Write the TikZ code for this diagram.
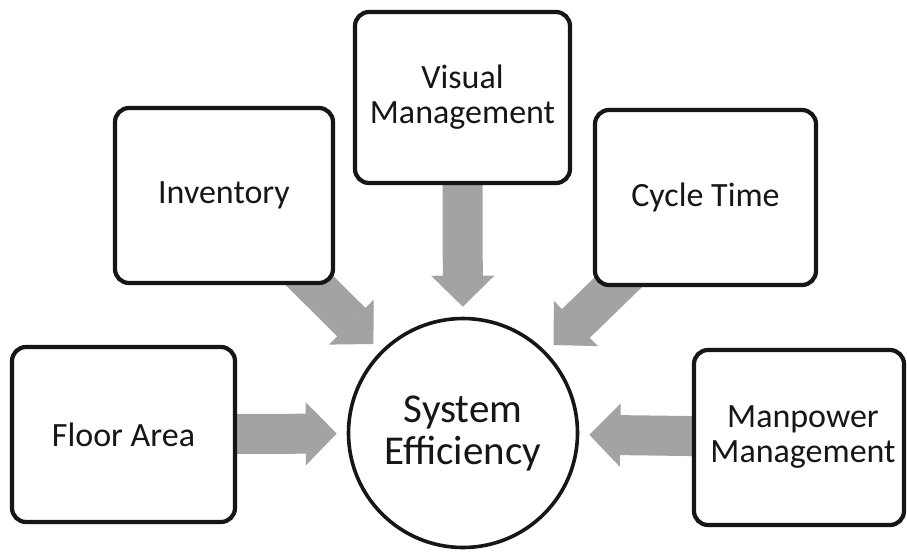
\documentclass[tikz,border=0pt]{standalone}
\usepackage{fontspec}
\setmainfont{Carlito}
\usetikzlibrary{arrows.meta}
\pgfdeclarelayer{background}
\pgfdeclarelayer{paper}
\pgfsetlayers{paper,background,main}
\definecolor{arrowgray}{RGB}{163,163,163}
\definecolor{ink}{RGB}{22,22,22}
\begin{document}
\begin{tikzpicture}[x=1pt,y=-1pt,
  box/.style={draw=ink, line width=4.2pt, rounded corners=14pt, fill=white,
    align=center, font=\fontsize{34}{35}\selectfont, text=ink, inner sep=0pt},
  hub/.style={circle, draw=ink, line width=3.6pt, fill=white, minimum size=229pt,
    inner sep=0pt, align=center, font=\fontsize{41}{42}\selectfont, text=ink},
  bigarrow/.style={draw=arrowgray, line width=40pt,
    -{Triangle[length=31pt,width=63pt,line width=1.2pt]},
    shorten >=10pt, shorten <=-30pt}]
\useasboundingbox (0,0) rectangle (907,552);
\begin{pgfonlayer}{paper}
\fill[white] (0,0) rectangle (907,552);
\end{pgfonlayer}
\node[box, minimum width=215pt, minimum height=171pt] (vm) at (462.5,97.5) {Visual\\Management};
\node[box, minimum width=218pt, minimum height=175pt] (inv) at (224,195.5) {Inventory};
\node[box, minimum width=221pt, minimum height=175pt] (ct) at (705.5,197.5) {Cycle Time};
\node[box, minimum width=223pt, minimum height=175pt] (fa) at (123.5,434.5) {Floor Area};
\node[box, minimum width=210pt, minimum height=175pt] (mp) at (799,437.5) {\hspace*{8pt}Manpower\\\hspace*{8pt}Management};
\node[hub] (se) at (463,433) {System\\Efficiency};
\begin{pgfonlayer}{background}
\draw[bigarrow] (vm) -- (se);
\draw[bigarrow] (inv) -- (se);
\draw[bigarrow] (ct) -- (se);
\draw[bigarrow] (fa) -- (se);
\draw[bigarrow] (mp) -- (se);
\end{pgfonlayer}
\end{tikzpicture}
\end{document}
